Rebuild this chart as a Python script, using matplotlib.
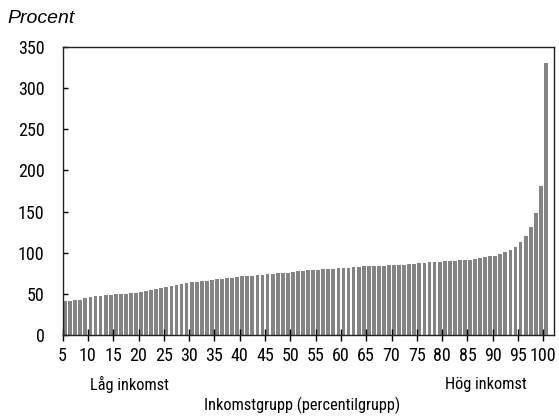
import numpy as np
import matplotlib
matplotlib.use("Agg")
import matplotlib.pyplot as plt
from matplotlib import font_manager

# Data: percentile groups 5..100 and value in percent
percentiles = list(range(5, 101))
values = [
    40.7, 40.7, 41.9, 42.7, 44.7, 46.0, 46.8, 47.6, 48.0, 48.8,        # 5-14
    49.2, 49.6, 50.0, 50.4, 51.2, 52.4, 53.6, 54.9, 56.0, 57.3,        # 15-24
    58.0, 59.3, 60.3, 61.5, 62.7, 63.7, 64.3, 65.1, 66.0, 66.8,        # 25-34
    67.6, 68.4, 69.2, 69.6, 70.4, 71.2, 71.6, 72.0, 72.4, 73.2,        # 35-44
    74.0, 74.4, 74.8, 75.3, 75.7, 76.3, 77.2, 77.6, 78.4, 78.4,        # 45-54
    79.2, 79.6, 80.0, 80.5, 80.9, 81.3, 81.7, 82.1, 82.9, 83.3,        # 55-64
    83.7, 83.7, 83.7, 84.1, 84.5, 84.9, 84.9, 85.3, 85.7, 86.5,        # 65-74
    87.3, 87.7, 88.1, 88.1, 88.5, 89.3, 89.3, 90.2, 90.6, 91.0,        # 75-84
    91.4, 92.6, 93.4, 94.2, 95.4, 96.3, 98.7, 101.2, 103.6, 107.2,     # 85-94
    112.5, 120.8, 131.3, 147.7, 181.2, 330.5,                          # 95-100
]
xticks = list(range(5, 101, 5))
yticks = list(range(0, 351, 50))

# pick a condensed face if one is installed, otherwise plain Liberation Sans
installed = {f.name for f in font_manager.fontManager.ttflist}
fsize, lsize = 11.5, 11
family = ['Liberation Sans', 'DejaVu Sans']
for cand in ['Liberation Sans Narrow', 'Roboto Condensed', 'Open Sans Condensed']:
    if cand in installed:
        family = [cand, 'DejaVu Sans']
        fsize, lsize = 13, 11.8
        break
plt.rcParams['font.family'] = family

fig = plt.figure(figsize=(5.59, 4.16), dpi=100)
ax = fig.add_axes([0.112, 0.195, 0.879, 0.692])

ax.bar(np.array(percentiles) + 0.5, values, width=0.75, color='#848484', zorder=1)

ax.set_xlim(5, 102.1)
ax.set_ylim(0, 350)
ax.set_xticks(xticks)
ax.set_yticks(yticks)
ax.tick_params(axis='x', direction='inout', length=8.5, width=1.0, labelsize=fsize, pad=4.5)
ax.tick_params(axis='y', direction='in', length=3.6, width=1.0, labelsize=fsize, pad=13)
for s in ax.spines.values():
    s.set_linewidth(1.0)
    s.set_color('#222222')

fig.text(0.014, 0.955, 'Procent', fontsize=14, style='italic',
         family=['Liberation Sans', 'DejaVu Sans'], va='center', ha='left')
fig.text(0.161, 0.075, 'Låg inkomst', fontsize=lsize, va='center', ha='left')
fig.text(0.943, 0.075, 'Hög inkomst', fontsize=lsize, va='center', ha='right')
fig.text(0.54, 0.026, 'Inkomstgrupp (percentilgrupp)', fontsize=lsize, va='center', ha='center')

fig.savefig('out.png', dpi=100)
